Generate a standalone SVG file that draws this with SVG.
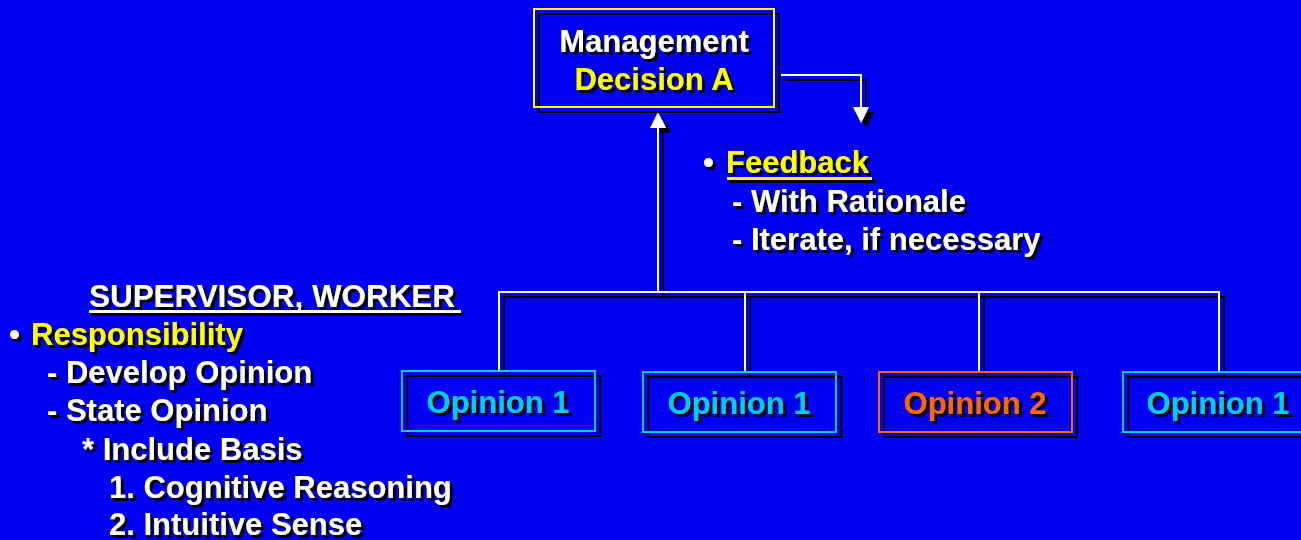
<svg xmlns="http://www.w3.org/2000/svg" width="1301" height="540" viewBox="0 0 1301 540">
  <style>
    text { font-family: "Liberation Sans", Arial, sans-serif; font-weight: bold; font-size: 31px; }
    .w { fill: #ffffff; }
    .y { fill: #ffff00; }
    .c { fill: #00ccff; }
    .o { fill: #ff6600; }
    .mid { text-anchor: middle; }
    .wire { fill: none; stroke: #ffffff; stroke-width: 2; }
    .frame { fill: none; stroke-width: 2; }
  </style>
  <defs>
    <!-- hard black drop shadows -->
    <filter id="shText" filterUnits="userSpaceOnUse" x="0" y="0" width="1301" height="540">
      <feFlood flood-color="#000000"/>
      <feComposite in2="SourceAlpha" operator="in"/>
      <feOffset dx="3" dy="3" result="s"/>
      <feMerge><feMergeNode in="s"/><feMergeNode in="SourceGraphic"/></feMerge>
    </filter>
    <filter id="shLine" filterUnits="userSpaceOnUse" x="0" y="0" width="1301" height="540">
      <feFlood flood-color="#000000"/>
      <feComposite in2="SourceAlpha" operator="in"/>
      <feOffset dx="5" dy="5" result="s"/>
      <feMerge><feMergeNode in="s"/><feMergeNode in="SourceGraphic"/></feMerge>
    </filter>
    <marker id="head" viewBox="0 0 16 16" refX="0" refY="8" markerWidth="16" markerHeight="16" markerUnits="userSpaceOnUse" orient="auto">
      <path d="M0,0 L16,8 L0,16 z" fill="#ffffff"/>
    </marker>
  </defs>

  <rect width="1301" height="540" fill="#0000f0"/>

  <!-- connectors -->
  <g id="connectors" filter="url(#shLine)">
    <polyline class="wire" points="499,372 499,292 1219,292 1219,372"/>
    <line class="wire" x1="745" y1="292" x2="745" y2="372"/>
    <line class="wire" x1="979" y1="292" x2="979" y2="372"/>
    <line class="wire" x1="658" y1="292" x2="658" y2="128" marker-end="url(#head)"/>
    <polyline class="wire" points="781,75 861,75 861,107" marker-end="url(#head)"/>
  </g>

  <!-- top decision node -->
  <g id="management">
    <rect class="frame" x="534" y="9" width="240" height="98" stroke="#ffff00" filter="url(#shLine)"/>
    <g filter="url(#shText)">
      <text class="w mid" x="654" y="52">Management</text>
      <text class="y mid" x="654" y="90">Decision A</text>
    </g>
  </g>

  <!-- feedback notes -->
  <g id="feedback" filter="url(#shText)">
    <text class="w" x="703" y="173">•</text>
    <text class="y" x="726" y="173">Feedback</text>
    <rect x="727" y="177" width="145" height="3" fill="#ffff00"/>
    <text class="w" x="732" y="212">- With Rationale</text>
    <text class="w" x="732" y="250">- Iterate, if necessary</text>
  </g>

  <!-- opinion nodes -->
  <g id="opinion-a">
    <rect class="frame" x="402" y="371" width="193" height="60" stroke="#00ccff" filter="url(#shLine)"/>
    <text class="c mid" x="498" y="413" filter="url(#shText)">Opinion 1</text>
  </g>
  <g id="opinion-b">
    <rect class="frame" x="643" y="372" width="193" height="60" stroke="#00ccff" filter="url(#shLine)"/>
    <text class="c mid" x="739" y="414" filter="url(#shText)">Opinion 1</text>
  </g>
  <g id="opinion-c">
    <rect class="frame" x="879" y="372" width="193" height="60" stroke="#ff6600" filter="url(#shLine)"/>
    <text class="o mid" x="975" y="414" filter="url(#shText)">Opinion 2</text>
  </g>
  <g id="opinion-d">
    <rect class="frame" x="1123" y="372" width="193" height="60" stroke="#00ccff" filter="url(#shLine)"/>
    <text class="c mid" x="1218" y="414" filter="url(#shText)">Opinion 1</text>
  </g>

  <!-- supervisor / worker notes -->
  <g id="supervisor" filter="url(#shText)">
    <text class="w" x="89" y="307" textLength="366" lengthAdjust="spacingAndGlyphs">SUPERVISOR, WORKER</text>
    <rect x="89" y="310" width="372" height="3" fill="#ffffff"/>
    <text class="w" x="9" y="345">•</text>
    <text class="y" x="31" y="345">Responsibility</text>
    <text class="w" x="47" y="383">- Develop Opinion</text>
    <text class="w" x="47" y="421">- State Opinion</text>
    <text class="w" x="82" y="460">* Include Basis</text>
    <text class="w" x="109" y="498">1. Cognitive Reasoning</text>
    <text class="w" x="109" y="535">2. Intuitive Sense</text>
  </g>
</svg>
